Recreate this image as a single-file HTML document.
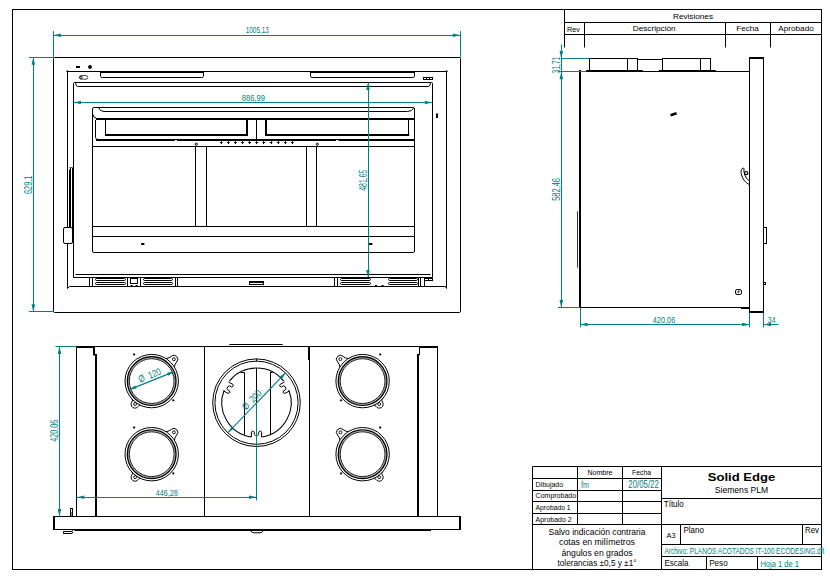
<!DOCTYPE html>
<html lang="es"><head><meta charset="utf-8"><title>Plano IT-100</title>
<style>
html,body{margin:0;padding:0;background:#fff;}
body{width:830px;height:579px;overflow:hidden;}
svg{display:block;font-family:"Liberation Sans",sans-serif;}
</style></head><body>
<svg width="830" height="579" viewBox="0 0 830 579">
<rect x="0" y="0" width="830" height="579" fill="#fff"/>
<rect x="12.5" y="9.5" width="809.0" height="560.0" rx="0" fill="none" stroke="#000" stroke-width="1"/>
<line x1="564.5" y1="9.5" x2="564.5" y2="47.5" stroke="#000" stroke-width="1"/>
<line x1="564.3" y1="22.5" x2="821.5" y2="22.5" stroke="#000" stroke-width="1"/>
<line x1="564.3" y1="34.5" x2="821.5" y2="34.5" stroke="#000" stroke-width="1"/>
<line x1="584.5" y1="22.5" x2="584.5" y2="47.5" stroke="#000" stroke-width="1"/>
<line x1="725.5" y1="22.5" x2="725.5" y2="47.5" stroke="#000" stroke-width="1"/>
<line x1="770.5" y1="22.5" x2="770.5" y2="47.5" stroke="#000" stroke-width="1"/>
<text x="693" y="18.7" font-size="7.5" text-anchor="middle" fill="#000" font-weight="normal" textLength="40" lengthAdjust="spacingAndGlyphs">Revisiones</text>
<text x="567" y="31.6" font-size="7.5" text-anchor="start" fill="#000" font-weight="normal" textLength="13" lengthAdjust="spacingAndGlyphs">Rev</text>
<text x="654.2" y="31.4" font-size="7.5" text-anchor="middle" fill="#000" font-weight="normal" textLength="43" lengthAdjust="spacingAndGlyphs">Descripción</text>
<text x="747.5" y="31.4" font-size="7.5" text-anchor="middle" fill="#000" font-weight="normal" textLength="22.5" lengthAdjust="spacingAndGlyphs">Fecha</text>
<text x="796" y="31.4" font-size="7.5" text-anchor="middle" fill="#000" font-weight="normal" textLength="35.5" lengthAdjust="spacingAndGlyphs">Aprobado</text>
<rect x="53.5" y="57.5" width="407.0" height="255.0" rx="1.2" fill="none" stroke="#000" stroke-width="1"/>
<path d="M67.5 71.5 V288.5 L69.5 286.5 H445.5 L446.5 288.5 V71.5" fill="none" stroke="#000" stroke-width="1" stroke-linejoin="round"/>
<line x1="67.3" y1="71.5" x2="446.7" y2="71.5" stroke="#000" stroke-width="1"/>
<line x1="100" y1="72" x2="203.5" y2="72" stroke="#000" stroke-width="2"/>
<line x1="310" y1="72" x2="415" y2="72" stroke="#000" stroke-width="2"/>
<circle cx="67.3" cy="71.3" r="0.7" fill="#000" stroke="#000" stroke-width="0.5"/>
<circle cx="446.7" cy="71.3" r="0.7" fill="#000" stroke="#000" stroke-width="0.5"/>
<path d="M100.5 71.5 V76.5 Q100.5 77.5 102.5 77.5 H201.5 Q203.5 77.5 203.5 76.5 V71.5" fill="none" stroke="#000" stroke-width="1" stroke-linejoin="round"/>
<path d="M310.5 71.5 V76.5 Q310.5 77.5 312.5 77.5 H412.5 Q414.5 77.5 414.5 76.5 V71.5" fill="none" stroke="#000" stroke-width="1" stroke-linejoin="round"/>
<line x1="76" y1="67" x2="80" y2="67" stroke="#000" stroke-width="2"/>
<circle cx="90" cy="67" r="1.7" fill="#000" stroke="#000" stroke-width="0.5"/>
<rect x="79.4" y="75.6" width="8.4" height="3.6" rx="1.8" fill="none" stroke="#333" stroke-width="0.9"/>
<circle cx="81" cy="77.4" r="1.2" fill="none" stroke="#000" stroke-width="0.9"/>
<rect x="423.5" y="77.5" width="9.0" height="2.0" rx="0" fill="none" stroke="#000" stroke-width="1"/>
<line x1="426.5" y1="77" x2="426.5" y2="80" stroke="#000" stroke-width="1"/>
<line x1="429.5" y1="77" x2="429.5" y2="80" stroke="#000" stroke-width="1"/>
<line x1="437" y1="113.6" x2="437" y2="118" stroke="#000" stroke-width="2"/>
<path d="M73.5 277.5 V83.5 Q73.5 82.5 74.5 82.5 H431.5 Q432.5 82.5 432.5 83.5 V277.5" fill="none" stroke="#000" stroke-width="1" stroke-linejoin="round"/>
<path d="M75.5 82.5 Q75.7 86.5 77.8 86.5 H428.2 Q430.3 86.5 430.5 82.5" fill="none" stroke="#000" stroke-width="1" stroke-linejoin="round"/>
<line x1="75.5" y1="274.5" x2="430.5" y2="274.5" stroke="#000" stroke-width="1"/>
<line x1="73.5" y1="277.5" x2="432.3" y2="277.5" stroke="#000" stroke-width="1"/>
<line x1="69.5" y1="169.5" x2="69.5" y2="227" stroke="#000" stroke-width="1"/>
<line x1="70.5" y1="167.5" x2="70.5" y2="227" stroke="#000" stroke-width="1"/>
<line x1="72.5" y1="167.5" x2="72.5" y2="243" stroke="#000" stroke-width="1"/>
<line x1="69.4" y1="167.5" x2="72.5" y2="167.5" stroke="#555" stroke-width="1"/>
<rect x="63.5" y="227.5" width="9.0" height="16.0" rx="1.5" fill="#fff" stroke="#000" stroke-width="1"/>
<rect x="92.5" y="107.5" width="322.0" height="145.0" rx="1.5" fill="none" stroke="#000" stroke-width="1"/>
<path d="M98.6 107.5 Q99.6 111.5 104 111.5 H407.5 Q411.6 111.5 413.8 108" fill="none" stroke="#000" stroke-width="1" stroke-linejoin="round"/>
<line x1="96" y1="119" x2="414.5" y2="119" stroke="#000" stroke-width="2"/>
<path d="M93 114.5 Q93.2 118 96.5 118.2 M95.5 120 V137.5 Q95.6 139 97 139.2" fill="none" stroke="#000" stroke-width="1" stroke-linejoin="round"/>
<line x1="105.5" y1="119" x2="105.5" y2="135" stroke="#000" stroke-width="1"/>
<line x1="247" y1="118" x2="247" y2="136" stroke="#000" stroke-width="2"/>
<line x1="104.9" y1="135" x2="247.8" y2="135" stroke="#000" stroke-width="2"/>
<line x1="266" y1="118" x2="266" y2="136" stroke="#000" stroke-width="2"/>
<line x1="408.5" y1="119" x2="408.5" y2="135" stroke="#000" stroke-width="1"/>
<line x1="265.7" y1="135" x2="409.3" y2="135" stroke="#000" stroke-width="2"/>
<line x1="256.5" y1="118.7" x2="256.5" y2="139.6" stroke="#000" stroke-width="1"/>
<line x1="96" y1="140" x2="414.5" y2="140" stroke="#000" stroke-width="2"/>
<line x1="174.8" y1="140.5" x2="177" y2="140.5" stroke="#fff" stroke-width="1"/>
<line x1="336.2" y1="140.5" x2="338.4" y2="140.5" stroke="#fff" stroke-width="1"/>
<line x1="92.8" y1="146.5" x2="414.5" y2="146.5" stroke="#000" stroke-width="1"/>
<line x1="219.79999999999998" y1="142.5" x2="222.6" y2="142.5" stroke="#000" stroke-width="1"/>
<line x1="221.5" y1="141.3" x2="221.5" y2="144.1" stroke="#000" stroke-width="1"/>
<line x1="226.92" y1="142.5" x2="229.72" y2="142.5" stroke="#000" stroke-width="1"/>
<line x1="228.5" y1="141.3" x2="228.5" y2="144.1" stroke="#000" stroke-width="1"/>
<line x1="234.04" y1="142.5" x2="236.84" y2="142.5" stroke="#000" stroke-width="1"/>
<line x1="235.5" y1="141.3" x2="235.5" y2="144.1" stroke="#000" stroke-width="1"/>
<line x1="241.16" y1="142.5" x2="243.96" y2="142.5" stroke="#000" stroke-width="1"/>
<line x1="242.5" y1="141.3" x2="242.5" y2="144.1" stroke="#000" stroke-width="1"/>
<line x1="248.27999999999997" y1="142.5" x2="251.07999999999998" y2="142.5" stroke="#000" stroke-width="1"/>
<line x1="249.5" y1="141.3" x2="249.5" y2="144.1" stroke="#000" stroke-width="1"/>
<line x1="255.4" y1="142.5" x2="258.2" y2="142.5" stroke="#000" stroke-width="1"/>
<line x1="256.5" y1="141.3" x2="256.5" y2="144.1" stroke="#000" stroke-width="1"/>
<line x1="262.52" y1="142.5" x2="265.31999999999994" y2="142.5" stroke="#000" stroke-width="1"/>
<line x1="263.5" y1="141.3" x2="263.5" y2="144.1" stroke="#000" stroke-width="1"/>
<line x1="269.64" y1="142.5" x2="272.43999999999994" y2="142.5" stroke="#000" stroke-width="1"/>
<line x1="271.5" y1="141.3" x2="271.5" y2="144.1" stroke="#000" stroke-width="1"/>
<line x1="276.76" y1="142.5" x2="279.55999999999995" y2="142.5" stroke="#000" stroke-width="1"/>
<line x1="278.5" y1="141.3" x2="278.5" y2="144.1" stroke="#000" stroke-width="1"/>
<line x1="283.88" y1="142.5" x2="286.67999999999995" y2="142.5" stroke="#000" stroke-width="1"/>
<line x1="285.5" y1="141.3" x2="285.5" y2="144.1" stroke="#000" stroke-width="1"/>
<line x1="291.0" y1="142.5" x2="293.79999999999995" y2="142.5" stroke="#000" stroke-width="1"/>
<line x1="292.5" y1="141.3" x2="292.5" y2="144.1" stroke="#000" stroke-width="1"/>
<line x1="195.5" y1="146" x2="195.5" y2="226.3" stroke="#000" stroke-width="1"/>
<line x1="206.5" y1="146" x2="206.5" y2="226.3" stroke="#000" stroke-width="1"/>
<line x1="306.5" y1="146" x2="306.5" y2="226.3" stroke="#000" stroke-width="1"/>
<line x1="316.5" y1="146" x2="316.5" y2="226.3" stroke="#000" stroke-width="1"/>
<circle cx="196.3" cy="144.2" r="1.1" fill="none" stroke="#000" stroke-width="1"/>
<circle cx="317.3" cy="144.2" r="1.1" fill="none" stroke="#000" stroke-width="1"/>
<line x1="92.8" y1="226.5" x2="414.5" y2="226.5" stroke="#000" stroke-width="1"/>
<line x1="92.8" y1="236.5" x2="414.5" y2="236.5" stroke="#000" stroke-width="1"/>
<line x1="141.2" y1="244" x2="144.4" y2="244" stroke="#000" stroke-width="2"/>
<line x1="368.9" y1="244" x2="372.4" y2="244" stroke="#000" stroke-width="2"/>
<line x1="89.5" y1="277" x2="89.5" y2="286.4" stroke="#000" stroke-width="1"/>
<line x1="92.5" y1="277" x2="92.5" y2="286.4" stroke="#000" stroke-width="1"/>
<line x1="127.5" y1="277" x2="127.5" y2="286.4" stroke="#000" stroke-width="1"/>
<line x1="140.5" y1="277" x2="140.5" y2="286.4" stroke="#000" stroke-width="1"/>
<line x1="175.5" y1="277" x2="175.5" y2="286.4" stroke="#000" stroke-width="1"/>
<line x1="177.5" y1="277" x2="177.5" y2="286.4" stroke="#000" stroke-width="1"/>
<rect x="95.5" y="278.5" width="30.0" height="2.0" rx="1" fill="none" stroke="#000" stroke-width="1"/>
<rect x="95.5" y="282.5" width="30.0" height="2.0" rx="1" fill="none" stroke="#000" stroke-width="1"/>
<rect x="143.5" y="278.5" width="29.0" height="2.0" rx="1" fill="none" stroke="#000" stroke-width="1"/>
<rect x="143.5" y="282.5" width="29.0" height="2.0" rx="1" fill="none" stroke="#000" stroke-width="1"/>
<line x1="334.5" y1="277" x2="334.5" y2="286.4" stroke="#000" stroke-width="1"/>
<line x1="337.5" y1="277" x2="337.5" y2="286.4" stroke="#000" stroke-width="1"/>
<line x1="418.5" y1="277" x2="418.5" y2="286.4" stroke="#000" stroke-width="1"/>
<line x1="420.5" y1="277" x2="420.5" y2="286.4" stroke="#000" stroke-width="1"/>
<line x1="424.5" y1="277" x2="424.5" y2="286.4" stroke="#000" stroke-width="1"/>
<rect x="340.5" y="278.5" width="30.0" height="2.0" rx="1" fill="none" stroke="#000" stroke-width="1"/>
<rect x="340.5" y="282.5" width="30.0" height="2.0" rx="1" fill="none" stroke="#000" stroke-width="1"/>
<rect x="388.5" y="278.5" width="29.0" height="2.0" rx="1" fill="none" stroke="#000" stroke-width="1"/>
<rect x="388.5" y="282.5" width="29.0" height="2.0" rx="1" fill="none" stroke="#000" stroke-width="1"/>
<rect x="130.5" y="278.5" width="7.0" height="5.0" rx="0" fill="none" stroke="#000" stroke-width="1"/>
<line x1="130.6" y1="285.5" x2="132.6" y2="285.5" stroke="#000" stroke-width="1"/>
<line x1="135.6" y1="285.5" x2="137.6" y2="285.5" stroke="#000" stroke-width="1"/>
<rect x="249.5" y="281.5" width="14.0" height="3.0" rx="0" fill="none" stroke="#000" stroke-width="1"/>
<line x1="250" y1="282.5" x2="263" y2="282.5" stroke="#000" stroke-width="1"/>
<line x1="375" y1="285.5" x2="377" y2="285.5" stroke="#000" stroke-width="1"/>
<line x1="381.6" y1="285.5" x2="383.6" y2="285.5" stroke="#000" stroke-width="1"/>
<rect x="424.5" y="278.5" width="8.0" height="2.0" rx="0" fill="none" stroke="#000" stroke-width="1"/>
<line x1="428.5" y1="278.6" x2="428.5" y2="280.6" stroke="#000" stroke-width="1"/>
<line x1="53.5" y1="31" x2="53.5" y2="57.5" stroke="#008080" stroke-width="1"/>
<line x1="460.5" y1="31" x2="460.5" y2="57.5" stroke="#008080" stroke-width="1"/>
<line x1="53.4" y1="35.5" x2="460.4" y2="35.5" stroke="#008080" stroke-width="1"/>
<polygon points="53.40,35.30 60.90,33.50 60.90,37.10" fill="#008080"/>
<polygon points="460.40,35.30 452.90,37.10 452.90,33.50" fill="#008080"/>
<text x="257.3" y="32.9" font-size="9.8" text-anchor="middle" fill="#008080" font-weight="normal" textLength="23.3" lengthAdjust="spacingAndGlyphs">1005,13</text>
<line x1="29" y1="57.5" x2="53.7" y2="57.5" stroke="#008080" stroke-width="1"/>
<line x1="29" y1="311.5" x2="53.7" y2="311.5" stroke="#008080" stroke-width="1"/>
<line x1="33.5" y1="57.3" x2="33.5" y2="311.8" stroke="#008080" stroke-width="1"/>
<polygon points="33.30,57.30 35.10,64.80 31.50,64.80" fill="#008080"/>
<polygon points="33.30,311.80 31.50,304.30 35.10,304.30" fill="#008080"/>
<text x="31.8" y="184.8" font-size="10" text-anchor="middle" fill="#008080" font-weight="normal" textLength="18.6" lengthAdjust="spacingAndGlyphs" transform="rotate(-90 31.8 184.8)">629,1</text>
<line x1="73.5" y1="102.5" x2="432.3" y2="102.5" stroke="#008080" stroke-width="1"/>
<polygon points="73.50,102.50 81.00,100.70 81.00,104.30" fill="#008080"/>
<polygon points="432.30,102.50 424.80,104.30 424.80,100.70" fill="#008080"/>
<text x="253.3" y="100.8" font-size="9.8" text-anchor="middle" fill="#008080" font-weight="normal" textLength="23.2" lengthAdjust="spacingAndGlyphs">886,99</text>
<line x1="368.5" y1="82.4" x2="368.5" y2="277" stroke="#008080" stroke-width="1"/>
<polygon points="368.00,82.40 369.80,89.90 366.20,89.90" fill="#008080"/>
<polygon points="368.00,277.60 366.20,270.10 369.80,270.10" fill="#008080"/>
<text x="366.7" y="180.2" font-size="10" text-anchor="middle" fill="#008080" font-weight="normal" textLength="21.1" lengthAdjust="spacingAndGlyphs" transform="rotate(-90 366.7 180.2)">481,65</text>
<rect x="589.5" y="58.5" width="48.0" height="13.0" rx="0" fill="none" stroke="#000" stroke-width="1"/>
<line x1="627.5" y1="58.4" x2="627.5" y2="71.3" stroke="#000" stroke-width="1"/>
<rect x="662.5" y="58.5" width="48.0" height="13.0" rx="0" fill="none" stroke="#000" stroke-width="1"/>
<line x1="700.5" y1="58.4" x2="700.5" y2="71.3" stroke="#000" stroke-width="1"/>
<line x1="637.7" y1="59.5" x2="662.5" y2="59.5" stroke="#000" stroke-width="1"/>
<line x1="586.2" y1="71.5" x2="749.6" y2="71.5" stroke="#000" stroke-width="1"/>
<line x1="586.2" y1="71" x2="642.8" y2="71" stroke="#000" stroke-width="2"/>
<line x1="658.9" y1="71" x2="715.8" y2="71" stroke="#000" stroke-width="2"/>
<line x1="580" y1="70" x2="580" y2="308" stroke="#000" stroke-width="2"/>
<line x1="579" y1="307.5" x2="749.6" y2="307.5" stroke="#000" stroke-width="1"/>
<line x1="741" y1="308" x2="749.6" y2="308" stroke="#000" stroke-width="2"/>
<line x1="577.5" y1="211.3" x2="577.5" y2="267.7" stroke="#333" stroke-width="1"/>
<line x1="749.5" y1="57" x2="749.5" y2="313" stroke="#000" stroke-width="1"/>
<line x1="763.5" y1="57" x2="763.5" y2="313" stroke="#000" stroke-width="1"/>
<line x1="749" y1="58" x2="764" y2="58" stroke="#000" stroke-width="2"/>
<line x1="749" y1="312" x2="764" y2="312" stroke="#000" stroke-width="2"/>
<rect x="763.5" y="227.5" width="3.0" height="16.0" rx="0" fill="none" stroke="#000" stroke-width="1"/>
<rect x="763.5" y="282.5" width="2.0" height="2.0" rx="0" fill="none" stroke="#000" stroke-width="1"/>
<rect x="735.5" y="289.5" width="6.0" height="5.0" rx="1.6" fill="none" stroke="#000" stroke-width="1"/>
<path d="M738 293.4 V291.2 H740" fill="none" stroke="#000" stroke-width="0.9" stroke-linejoin="round"/>
<line x1="670.5" y1="115.2" x2="676.6" y2="113.2" stroke="#000" stroke-width="2.5"/>
<path d="M743.6 168 Q740.4 168.4 741.2 173.6 Q742.6 181 749.2 184.6 M743.9 168.2 Q743.4 176.2 749 180.7" fill="none" stroke="#000" stroke-width="1" stroke-linejoin="round"/>
<circle cx="746.2" cy="173.1" r="1.6" fill="none" stroke="#000" stroke-width="1.2"/>
<line x1="561.5" y1="44.5" x2="561.5" y2="307.2" stroke="#008080" stroke-width="1"/>
<line x1="561.3" y1="58.5" x2="589.5" y2="58.5" stroke="#008080" stroke-width="1"/>
<line x1="557.8" y1="71.5" x2="586.2" y2="71.5" stroke="#008080" stroke-width="1"/>
<polygon points="561.30,58.40 559.50,50.90 563.10,50.90" fill="#008080"/>
<polygon points="561.30,71.80 563.10,79.30 559.50,79.30" fill="#008080"/>
<polygon points="561.30,307.40 559.50,299.90 563.10,299.90" fill="#008080"/>
<line x1="558" y1="307.5" x2="580.1" y2="307.5" stroke="#008080" stroke-width="1"/>
<text x="560.3" y="65" font-size="10" text-anchor="middle" fill="#008080" font-weight="normal" textLength="16.4" lengthAdjust="spacingAndGlyphs" transform="rotate(-90 560.3 65)">31,71</text>
<text x="559.9" y="189.4" font-size="10" text-anchor="middle" fill="#008080" font-weight="normal" textLength="22.9" lengthAdjust="spacingAndGlyphs" transform="rotate(-90 559.9 189.4)">582,46</text>
<line x1="580.5" y1="308" x2="580.5" y2="327.3" stroke="#008080" stroke-width="1"/>
<line x1="749.5" y1="313" x2="749.5" y2="327.3" stroke="#008080" stroke-width="1"/>
<line x1="763.5" y1="313" x2="763.5" y2="327.3" stroke="#008080" stroke-width="1"/>
<line x1="580.1" y1="324.5" x2="749.6" y2="324.5" stroke="#008080" stroke-width="1"/>
<line x1="763.6" y1="324.5" x2="778.5" y2="324.5" stroke="#008080" stroke-width="1"/>
<polygon points="580.10,324.50 587.60,322.70 587.60,326.30" fill="#008080"/>
<polygon points="749.60,324.50 742.10,326.30 742.10,322.70" fill="#008080"/>
<polygon points="763.60,324.50 771.10,322.70 771.10,326.30" fill="#008080"/>
<text x="664" y="322.8" font-size="9.8" text-anchor="middle" fill="#008080" font-weight="normal" textLength="22.5" lengthAdjust="spacingAndGlyphs">420,06</text>
<text x="771.7" y="322.8" font-size="9.8" text-anchor="middle" fill="#008080" font-weight="normal" textLength="7.8" lengthAdjust="spacingAndGlyphs">34</text>
<line x1="76" y1="346.5" x2="438" y2="346.5" stroke="#000" stroke-width="1"/>
<line x1="76" y1="347" x2="95" y2="347" stroke="#000" stroke-width="2"/>
<line x1="419" y1="347" x2="438" y2="347" stroke="#000" stroke-width="2"/>
<line x1="76.5" y1="346.5" x2="76.5" y2="516.5" stroke="#000" stroke-width="1"/>
<line x1="437.5" y1="346.5" x2="437.5" y2="516.5" stroke="#000" stroke-width="1"/>
<line x1="94" y1="346" x2="94" y2="355.6" stroke="#000" stroke-width="2"/>
<line x1="96" y1="354" x2="96" y2="516.5" stroke="#000" stroke-width="2"/>
<line x1="419.5" y1="346" x2="419.5" y2="355.2" stroke="#000" stroke-width="1"/>
<line x1="418" y1="354" x2="418" y2="516.5" stroke="#000" stroke-width="2"/>
<line x1="204.5" y1="346.5" x2="204.5" y2="516.5" stroke="#000" stroke-width="1"/>
<line x1="309.5" y1="346.5" x2="309.5" y2="516.5" stroke="#000" stroke-width="1"/>
<line x1="309" y1="346.5" x2="309" y2="360" stroke="#000" stroke-width="2"/>
<line x1="229.3" y1="344.5" x2="282.7" y2="344.5" stroke="#000" stroke-width="1"/>
<line x1="53" y1="516.5" x2="461" y2="516.5" stroke="#000" stroke-width="1"/>
<line x1="53" y1="529.5" x2="461" y2="529.5" stroke="#000" stroke-width="1"/>
<line x1="54" y1="516" x2="54" y2="530" stroke="#000" stroke-width="2"/>
<line x1="460" y1="516" x2="460" y2="530" stroke="#000" stroke-width="2"/>
<line x1="74.5" y1="530" x2="431" y2="530" stroke="#000" stroke-width="2"/>
<path d="M63.5 531.5 H71 Q72.8 531.5 72.8 530 M63.5 531.5 V533.5 H71 Q72.8 533.5 72.8 532" fill="none" stroke="#000" stroke-width="1" stroke-linejoin="round"/>
<path d="M251 531 Q251.8 532.8 254 532.8 H260 Q262.2 532.8 263 531" fill="none" stroke="#000" stroke-width="1" stroke-linejoin="round"/>
<rect x="70.5" y="508.5" width="2.0" height="8.0" rx="0" fill="none" stroke="#000" stroke-width="1"/>
<line x1="71.5" y1="512" x2="71.5" y2="516" stroke="#888" stroke-width="1"/>
<path d="M166.00 358.55 Q169.31 358.25 171.16 356.42 A3.9 3.9 0 1 1 176.64 361.98 Q174.79 363.80 174.44 367.11" fill="#fff" stroke="#000" stroke-width="1" stroke-linejoin="round"/>
<path d="M141.34 405.71 Q139.78 404.27 138.26 406.38 A3.9 3.9 0 1 1 131.94 401.82 Q133.46 399.71 131.60 398.68" fill="#fff" stroke="#000" stroke-width="1" stroke-linejoin="round"/>
<circle cx="151.7" cy="381.1" r="26.7" fill="#fff" stroke="#000" stroke-width="1"/>
<circle cx="173.89999999999998" cy="359.20000000000005" r="1.45" fill="none" stroke="#000" stroke-width="0.9"/>
<circle cx="135.1" cy="404.1" r="1.45" fill="none" stroke="#000" stroke-width="0.9"/>
<circle cx="151.7" cy="381.1" r="24.3" fill="none" stroke="#000" stroke-width="1.4"/>
<circle cx="151.7" cy="381.1" r="23.3" fill="none" stroke="#666" stroke-width="0.5"/>
<circle cx="151.7" cy="381.1" r="22.4" fill="none" stroke="#000" stroke-width="0.9"/>
<circle cx="134.1" cy="354.40000000000003" r="0.9" fill="#000" stroke="#000" stroke-width="0.4"/>
<circle cx="173.29999999999998" cy="400.3" r="0.9" fill="#000" stroke="#000" stroke-width="0.4"/>
<path d="M166.00 431.65 Q169.31 431.35 171.16 429.52 A3.9 3.9 0 1 1 176.64 435.08 Q174.79 436.90 174.44 440.21" fill="#fff" stroke="#000" stroke-width="1" stroke-linejoin="round"/>
<path d="M141.34 478.81 Q139.78 477.37 138.26 479.48 A3.9 3.9 0 1 1 131.94 474.92 Q133.46 472.81 131.60 471.78" fill="#fff" stroke="#000" stroke-width="1" stroke-linejoin="round"/>
<circle cx="151.7" cy="454.2" r="26.7" fill="#fff" stroke="#000" stroke-width="1"/>
<circle cx="173.89999999999998" cy="432.3" r="1.45" fill="none" stroke="#000" stroke-width="0.9"/>
<circle cx="135.1" cy="477.2" r="1.45" fill="none" stroke="#000" stroke-width="0.9"/>
<circle cx="151.7" cy="454.2" r="24.3" fill="none" stroke="#000" stroke-width="1.4"/>
<circle cx="151.7" cy="454.2" r="23.3" fill="none" stroke="#666" stroke-width="0.5"/>
<circle cx="151.7" cy="454.2" r="22.4" fill="none" stroke="#000" stroke-width="0.9"/>
<circle cx="134.1" cy="427.5" r="0.9" fill="#000" stroke="#000" stroke-width="0.4"/>
<circle cx="173.29999999999998" cy="473.4" r="0.9" fill="#000" stroke="#000" stroke-width="0.4"/>
<path d="M339.86 367.11 Q339.51 363.80 337.66 361.98 A3.9 3.9 0 1 1 343.14 356.42 Q344.99 358.25 348.30 358.55" fill="#fff" stroke="#000" stroke-width="1" stroke-linejoin="round"/>
<path d="M382.70 398.68 Q380.84 399.71 382.36 401.82 A3.9 3.9 0 1 1 376.04 406.38 Q374.52 404.27 372.96 405.71" fill="#fff" stroke="#000" stroke-width="1" stroke-linejoin="round"/>
<circle cx="362.6" cy="381.1" r="26.7" fill="#fff" stroke="#000" stroke-width="1"/>
<circle cx="340.40000000000003" cy="359.20000000000005" r="1.45" fill="none" stroke="#000" stroke-width="0.9"/>
<circle cx="379.20000000000005" cy="404.1" r="1.45" fill="none" stroke="#000" stroke-width="0.9"/>
<circle cx="362.6" cy="381.1" r="24.3" fill="none" stroke="#000" stroke-width="1.4"/>
<circle cx="362.6" cy="381.1" r="23.3" fill="none" stroke="#666" stroke-width="0.5"/>
<circle cx="362.6" cy="381.1" r="22.4" fill="none" stroke="#000" stroke-width="0.9"/>
<circle cx="380.20000000000005" cy="354.40000000000003" r="0.9" fill="#000" stroke="#000" stroke-width="0.4"/>
<circle cx="341.0" cy="400.3" r="0.9" fill="#000" stroke="#000" stroke-width="0.4"/>
<path d="M339.86 440.21 Q339.51 436.90 337.66 435.08 A3.9 3.9 0 1 1 343.14 429.52 Q344.99 431.35 348.30 431.65" fill="#fff" stroke="#000" stroke-width="1" stroke-linejoin="round"/>
<path d="M382.70 471.78 Q380.84 472.81 382.36 474.92 A3.9 3.9 0 1 1 376.04 479.48 Q374.52 477.37 372.96 478.81" fill="#fff" stroke="#000" stroke-width="1" stroke-linejoin="round"/>
<circle cx="362.6" cy="454.2" r="26.7" fill="#fff" stroke="#000" stroke-width="1"/>
<circle cx="340.40000000000003" cy="432.3" r="1.45" fill="none" stroke="#000" stroke-width="0.9"/>
<circle cx="379.20000000000005" cy="477.2" r="1.45" fill="none" stroke="#000" stroke-width="0.9"/>
<circle cx="362.6" cy="454.2" r="24.3" fill="none" stroke="#000" stroke-width="1.4"/>
<circle cx="362.6" cy="454.2" r="23.3" fill="none" stroke="#666" stroke-width="0.5"/>
<circle cx="362.6" cy="454.2" r="22.4" fill="none" stroke="#000" stroke-width="0.9"/>
<circle cx="380.20000000000005" cy="427.5" r="0.9" fill="#000" stroke="#000" stroke-width="0.4"/>
<circle cx="341.0" cy="473.4" r="0.9" fill="#000" stroke="#000" stroke-width="0.4"/>
<circle cx="256.5" cy="402.7" r="43.8" fill="none" stroke="#000" stroke-width="1"/>
<circle cx="256.5" cy="402.7" r="41.6" fill="none" stroke="#000" stroke-width="1"/>
<path d="M251.37 437.02 A34.7 34.7 0 0 1 224.21 389.98" fill="none" stroke="#000" stroke-width="1.05" stroke-linejoin="round"/>
<path d="M288.79 389.98 A34.7 34.7 0 0 1 261.63 437.02" fill="none" stroke="#000" stroke-width="1.05" stroke-linejoin="round"/>
<path d="M229.34 381.10 A34.7 34.7 0 0 1 283.66 381.10" fill="none" stroke="#000" stroke-width="1.05" stroke-linejoin="round"/>
<path d="M261.60 437.10 L261.60 432.10 L260.60 431.10 L259.70 431.10 L258.70 432.10 L258.70 434.50 L257.60 435.50 L255.40 435.50 L254.30 434.50 L254.30 432.10 L253.30 431.10 L252.40 431.10 L251.40 432.10 L251.40 437.10" fill="none" stroke="#000" stroke-width="1.0" stroke-linejoin="round"/>
<path d="M223.73 391.05 L228.15 393.40 L229.50 392.99 L229.92 392.19 L229.51 390.84 L227.39 389.71 L227.02 388.27 L228.06 386.33 L229.46 385.83 L231.57 386.96 L232.93 386.54 L233.35 385.75 L232.94 384.39 L228.52 382.05" fill="none" stroke="#000" stroke-width="1.0" stroke-linejoin="round"/>
<path d="M284.48 382.05 L280.06 384.39 L279.65 385.75 L280.07 386.54 L281.43 386.96 L283.54 385.83 L284.94 386.33 L285.98 388.27 L285.61 389.71 L283.49 390.84 L283.08 392.19 L283.50 392.99 L284.85 393.40 L289.27 391.05" fill="none" stroke="#000" stroke-width="1.0" stroke-linejoin="round"/>
<line x1="244.5" y1="372.4" x2="244.5" y2="434.6" stroke="#000" stroke-width="1"/>
<line x1="270.5" y1="372.4" x2="270.5" y2="434.6" stroke="#000" stroke-width="1"/>
<line x1="256.5" y1="358.9" x2="256.5" y2="361.6" stroke="#000" stroke-width="1"/>
<line x1="256.5" y1="368" x2="256.5" y2="402.7" stroke="#000" stroke-width="1"/>
<line x1="240.4" y1="372.5" x2="244.5" y2="372.5" stroke="#000" stroke-width="1"/>
<line x1="270.1" y1="372.5" x2="272.6" y2="372.5" stroke="#000" stroke-width="1"/>
<line x1="55.5" y1="346.5" x2="76.8" y2="346.5" stroke="#008080" stroke-width="1"/>
<line x1="59.5" y1="346.5" x2="59.5" y2="516.5" stroke="#008080" stroke-width="1"/>
<polygon points="59.50,346.50 61.30,354.00 57.70,354.00" fill="#008080"/>
<polygon points="59.50,516.50 57.70,509.00 61.30,509.00" fill="#008080"/>
<text x="57.9" y="430.7" font-size="10" text-anchor="middle" fill="#008080" font-weight="normal" textLength="22.1" lengthAdjust="spacingAndGlyphs" transform="rotate(-90 57.9 430.7)">420,06</text>
<line x1="76.8" y1="497.5" x2="256.5" y2="497.5" stroke="#008080" stroke-width="1"/>
<line x1="256.5" y1="402.7" x2="256.5" y2="500.5" stroke="#008080" stroke-width="1"/>
<polygon points="76.80,497.20 84.30,495.40 84.30,499.00" fill="#008080"/>
<polygon points="256.50,497.20 249.00,499.00 249.00,495.40" fill="#008080"/>
<text x="166.8" y="495.8" font-size="9.8" text-anchor="middle" fill="#008080" font-weight="normal" textLength="22" lengthAdjust="spacingAndGlyphs">446,28</text>
<line x1="129.4" y1="389.6" x2="174.2" y2="371.6" stroke="#008080" stroke-width="1.15"/>
<polygon points="129.40,389.60 135.26,385.41 136.53,388.57" fill="#008080"/>
<polygon points="174.20,371.60 168.34,375.79 167.07,372.63" fill="#008080"/>
<g transform="translate(151.8 380.6) rotate(-21.9)"><text x="0" y="-2.3" font-size="9.8" text-anchor="middle" fill="#008080" textLength="23.5" lengthAdjust="spacingAndGlyphs" xml:space="preserve">Ø  120</text></g>
<line x1="228.2" y1="432.4" x2="285.6" y2="372.8" stroke="#008080" stroke-width="1.15"/>
<polygon points="228.20,432.40 231.83,426.18 234.28,428.53" fill="#008080"/>
<polygon points="285.60,372.80 281.97,379.02 279.52,376.67" fill="#008080"/>
<g transform="translate(256.9 402.6) rotate(-46.1)"><text x="-1.5" y="-2.3" font-size="9.8" text-anchor="middle" fill="#008080" textLength="23.5" lengthAdjust="spacingAndGlyphs" xml:space="preserve">Ø  200</text></g>
<line x1="532.7" y1="466.5" x2="821.5" y2="466.5" stroke="#000" stroke-width="1"/>
<line x1="532.5" y1="466.5" x2="532.5" y2="569.2" stroke="#000" stroke-width="1"/>
<line x1="577.5" y1="466.5" x2="577.5" y2="524.3" stroke="#000" stroke-width="1"/>
<line x1="622.5" y1="466.5" x2="622.5" y2="524.3" stroke="#000" stroke-width="1"/>
<line x1="661.5" y1="466.5" x2="661.5" y2="569.2" stroke="#000" stroke-width="1"/>
<line x1="532.7" y1="478.5" x2="661.5" y2="478.5" stroke="#000" stroke-width="1"/>
<line x1="532.7" y1="490.5" x2="661.5" y2="490.5" stroke="#000" stroke-width="1"/>
<line x1="532.7" y1="501.5" x2="661.5" y2="501.5" stroke="#000" stroke-width="1"/>
<line x1="532.7" y1="513.5" x2="661.5" y2="513.5" stroke="#000" stroke-width="1"/>
<line x1="532.7" y1="524.5" x2="821.5" y2="524.5" stroke="#000" stroke-width="1"/>
<line x1="661.5" y1="498.5" x2="821.5" y2="498.5" stroke="#000" stroke-width="1"/>
<line x1="661.5" y1="544.5" x2="821.5" y2="544.5" stroke="#000" stroke-width="1"/>
<line x1="661.5" y1="556.5" x2="821.5" y2="556.5" stroke="#000" stroke-width="1"/>
<line x1="680.5" y1="524.3" x2="680.5" y2="544.3" stroke="#000" stroke-width="1"/>
<line x1="802.5" y1="524.3" x2="802.5" y2="544.3" stroke="#000" stroke-width="1"/>
<line x1="706.5" y1="556.4" x2="706.5" y2="569.2" stroke="#000" stroke-width="1"/>
<line x1="757.5" y1="556.4" x2="757.5" y2="569.2" stroke="#000" stroke-width="1"/>
<text x="600" y="475.3" font-size="6.6" text-anchor="middle" fill="#000" font-weight="normal" textLength="25" lengthAdjust="spacingAndGlyphs">Nombre</text>
<text x="641.5" y="475.3" font-size="6.6" text-anchor="middle" fill="#000" font-weight="normal" textLength="19" lengthAdjust="spacingAndGlyphs">Fecha</text>
<text x="535.6" y="487.3" font-size="6.6" text-anchor="start" fill="#000" font-weight="normal" textLength="27.5" lengthAdjust="spacingAndGlyphs">Dibujado</text>
<text x="535.6" y="498.4" font-size="6.6" text-anchor="start" fill="#000" font-weight="normal" textLength="40.5" lengthAdjust="spacingAndGlyphs">Comprobado</text>
<text x="535.6" y="510.3" font-size="6.6" text-anchor="start" fill="#000" font-weight="normal" textLength="35" lengthAdjust="spacingAndGlyphs">Aprobado 1</text>
<text x="535.6" y="522.2" font-size="6.6" text-anchor="start" fill="#000" font-weight="normal" textLength="36" lengthAdjust="spacingAndGlyphs">Aprobado 2</text>
<text x="581" y="487.9" font-size="9" text-anchor="start" fill="#008080" font-weight="normal" textLength="8" lengthAdjust="spacingAndGlyphs">fm</text>
<text x="628.3" y="488" font-size="10" text-anchor="start" fill="#008080" font-weight="normal" textLength="30.5" lengthAdjust="spacingAndGlyphs">20/05/22</text>
<text x="597" y="535.3" font-size="8.6" text-anchor="middle" fill="#000" font-weight="normal" textLength="97" lengthAdjust="spacingAndGlyphs">Salvo indicación contraria</text>
<text x="597" y="545.3" font-size="8.6" text-anchor="middle" fill="#000" font-weight="normal" textLength="76" lengthAdjust="spacingAndGlyphs">cotas en milímetros</text>
<text x="597" y="555.5" font-size="8.6" text-anchor="middle" fill="#000" font-weight="normal" textLength="71" lengthAdjust="spacingAndGlyphs">ángulos en grados</text>
<text x="597" y="566" font-size="8.6" text-anchor="middle" fill="#000" font-weight="normal" textLength="79" lengthAdjust="spacingAndGlyphs">tolerancias ±0,5 y ±1°</text>
<text x="741.5" y="481.4" font-size="11.8" text-anchor="middle" fill="#000" font-weight="bold" textLength="67.5" lengthAdjust="spacingAndGlyphs">Solid Edge</text>
<text x="741.5" y="492.9" font-size="9.3" text-anchor="middle" fill="#000" font-weight="normal" textLength="53.5" lengthAdjust="spacingAndGlyphs">Siemens PLM</text>
<text x="663.8" y="507" font-size="8.2" text-anchor="start" fill="#000" font-weight="normal" textLength="20" lengthAdjust="spacingAndGlyphs">Título</text>
<text x="666.6" y="537.6" font-size="7.2" text-anchor="start" fill="#000" font-weight="normal" textLength="9" lengthAdjust="spacingAndGlyphs">A3</text>
<text x="683.5" y="532.5" font-size="8.2" text-anchor="start" fill="#000" font-weight="normal" textLength="20.5" lengthAdjust="spacingAndGlyphs">Plano</text>
<text x="805" y="532.5" font-size="8.2" text-anchor="start" fill="#000" font-weight="normal" textLength="14" lengthAdjust="spacingAndGlyphs">Rev</text>
<text x="664.4" y="554" font-size="9" text-anchor="start" fill="#008080" font-weight="normal" textLength="160" lengthAdjust="spacingAndGlyphs">Archivo: PLANOS ACOTADOS IT-100 ECODESING.dft</text>
<text x="664.4" y="565.6" font-size="8.2" text-anchor="start" fill="#000" font-weight="normal" textLength="24" lengthAdjust="spacingAndGlyphs">Escala</text>
<text x="709.2" y="565.6" font-size="8.2" text-anchor="start" fill="#000" font-weight="normal" textLength="18.5" lengthAdjust="spacingAndGlyphs">Peso</text>
<text x="760.4" y="566.6" font-size="9" text-anchor="start" fill="#008080" font-weight="normal" textLength="38.5" lengthAdjust="spacingAndGlyphs">Hoja 1 de 1</text>
</svg>
</body></html>
